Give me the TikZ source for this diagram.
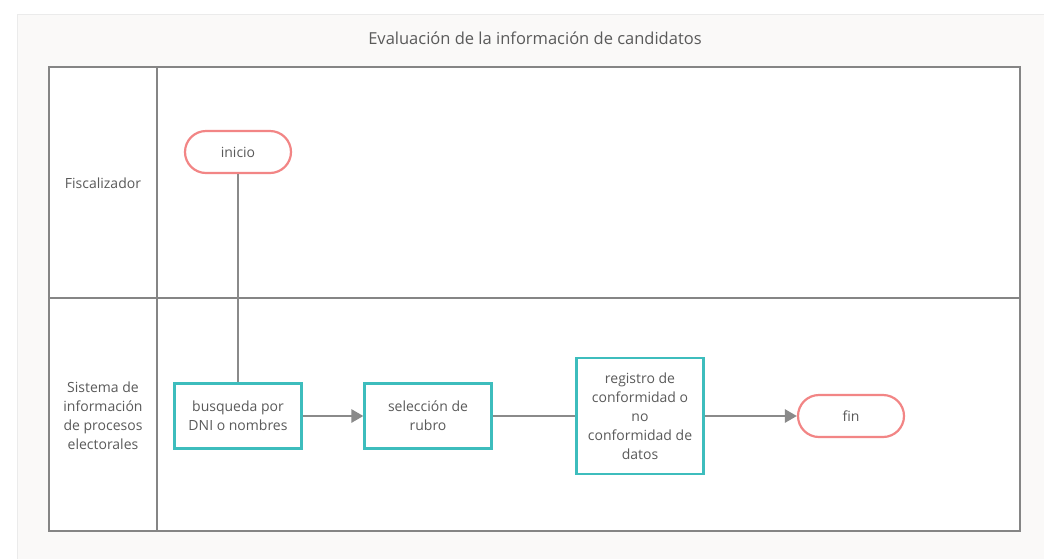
\documentclass[tikz,border=0pt]{standalone}
\usepackage{fontspec}
\usetikzlibrary{arrows.meta}
\setmainfont{Open Sans}
\definecolor{lanegray}{HTML}{858585}
\definecolor{linegray}{HTML}{8A8A8A}
\definecolor{textgray}{HTML}{5A5A5A}
\definecolor{boxteal}{HTML}{3DBDBD}
\definecolor{termred}{HTML}{F28585}
\definecolor{pagebg}{HTML}{FAF9F8}
\begin{document}
\begin{tikzpicture}[x=1pt,y=-1pt,
        every node/.style={font=\fontsize{14}{19}\selectfont, text=textgray, align=center},
        process/.style={draw=boxteal, line width=2.2pt, fill=white,
          minimum width=127pt, minimum height=65pt, inner sep=2pt},
        terminal/.style={draw=termred, line width=2.2pt, fill=white, rounded corners=21pt,
          minimum width=106pt, minimum height=42pt},
        flow/.style={draw=linegray, line width=2.6pt},
        lane/.style={draw=lanegray, line width=2pt}]
      \useasboundingbox (0,0) rectangle (1044,558);
      \fill[white] (0,0) rectangle (1044,558);
      \draw[fill=pagebg, draw=black!8] (17,14) rectangle (1044,570);   % page
      \node (title) at (535,38) {\fontsize{16.5}{19}\selectfont Evaluación de la información de candidatos};
      % pool and lanes
      \draw[lane, fill=white] (49,67) rectangle (1020,531);
      \draw[lane] (157,67) -- (157,531);
      \draw[lane] (49,298) -- (1020,298);
      \node (fisc) at (103,183) {Fiscalizador};
      \node (sist) at (103,416) {Sistema de\\información\\de procesos\\electorales};
      % steps
      \node[terminal] (inicio) at (238,152) {inicio};
      \node[process] (busq) at (238,416) {busqueda por\\DNI o nombres};
      \node[process] (selec) at (428,416) {selección de\\rubro};
      \node[process, minimum height=116pt] (regis) at (640,416)
        {registro de\\conformidad o\\no\\conformidad de\\datos};
      \node[terminal] (fin) at (851,416) {fin};
      % connectors
      \draw[flow] (inicio) -- (busq);
      \draw[flow, -{Triangle[length=12pt,width=13pt]}] (busq) -- (selec);
      \draw[flow] (selec) -- (regis);
      \draw[flow, -{Triangle[length=12pt,width=13pt]}] (regis) -- (fin);
\end{tikzpicture}
\end{document}
